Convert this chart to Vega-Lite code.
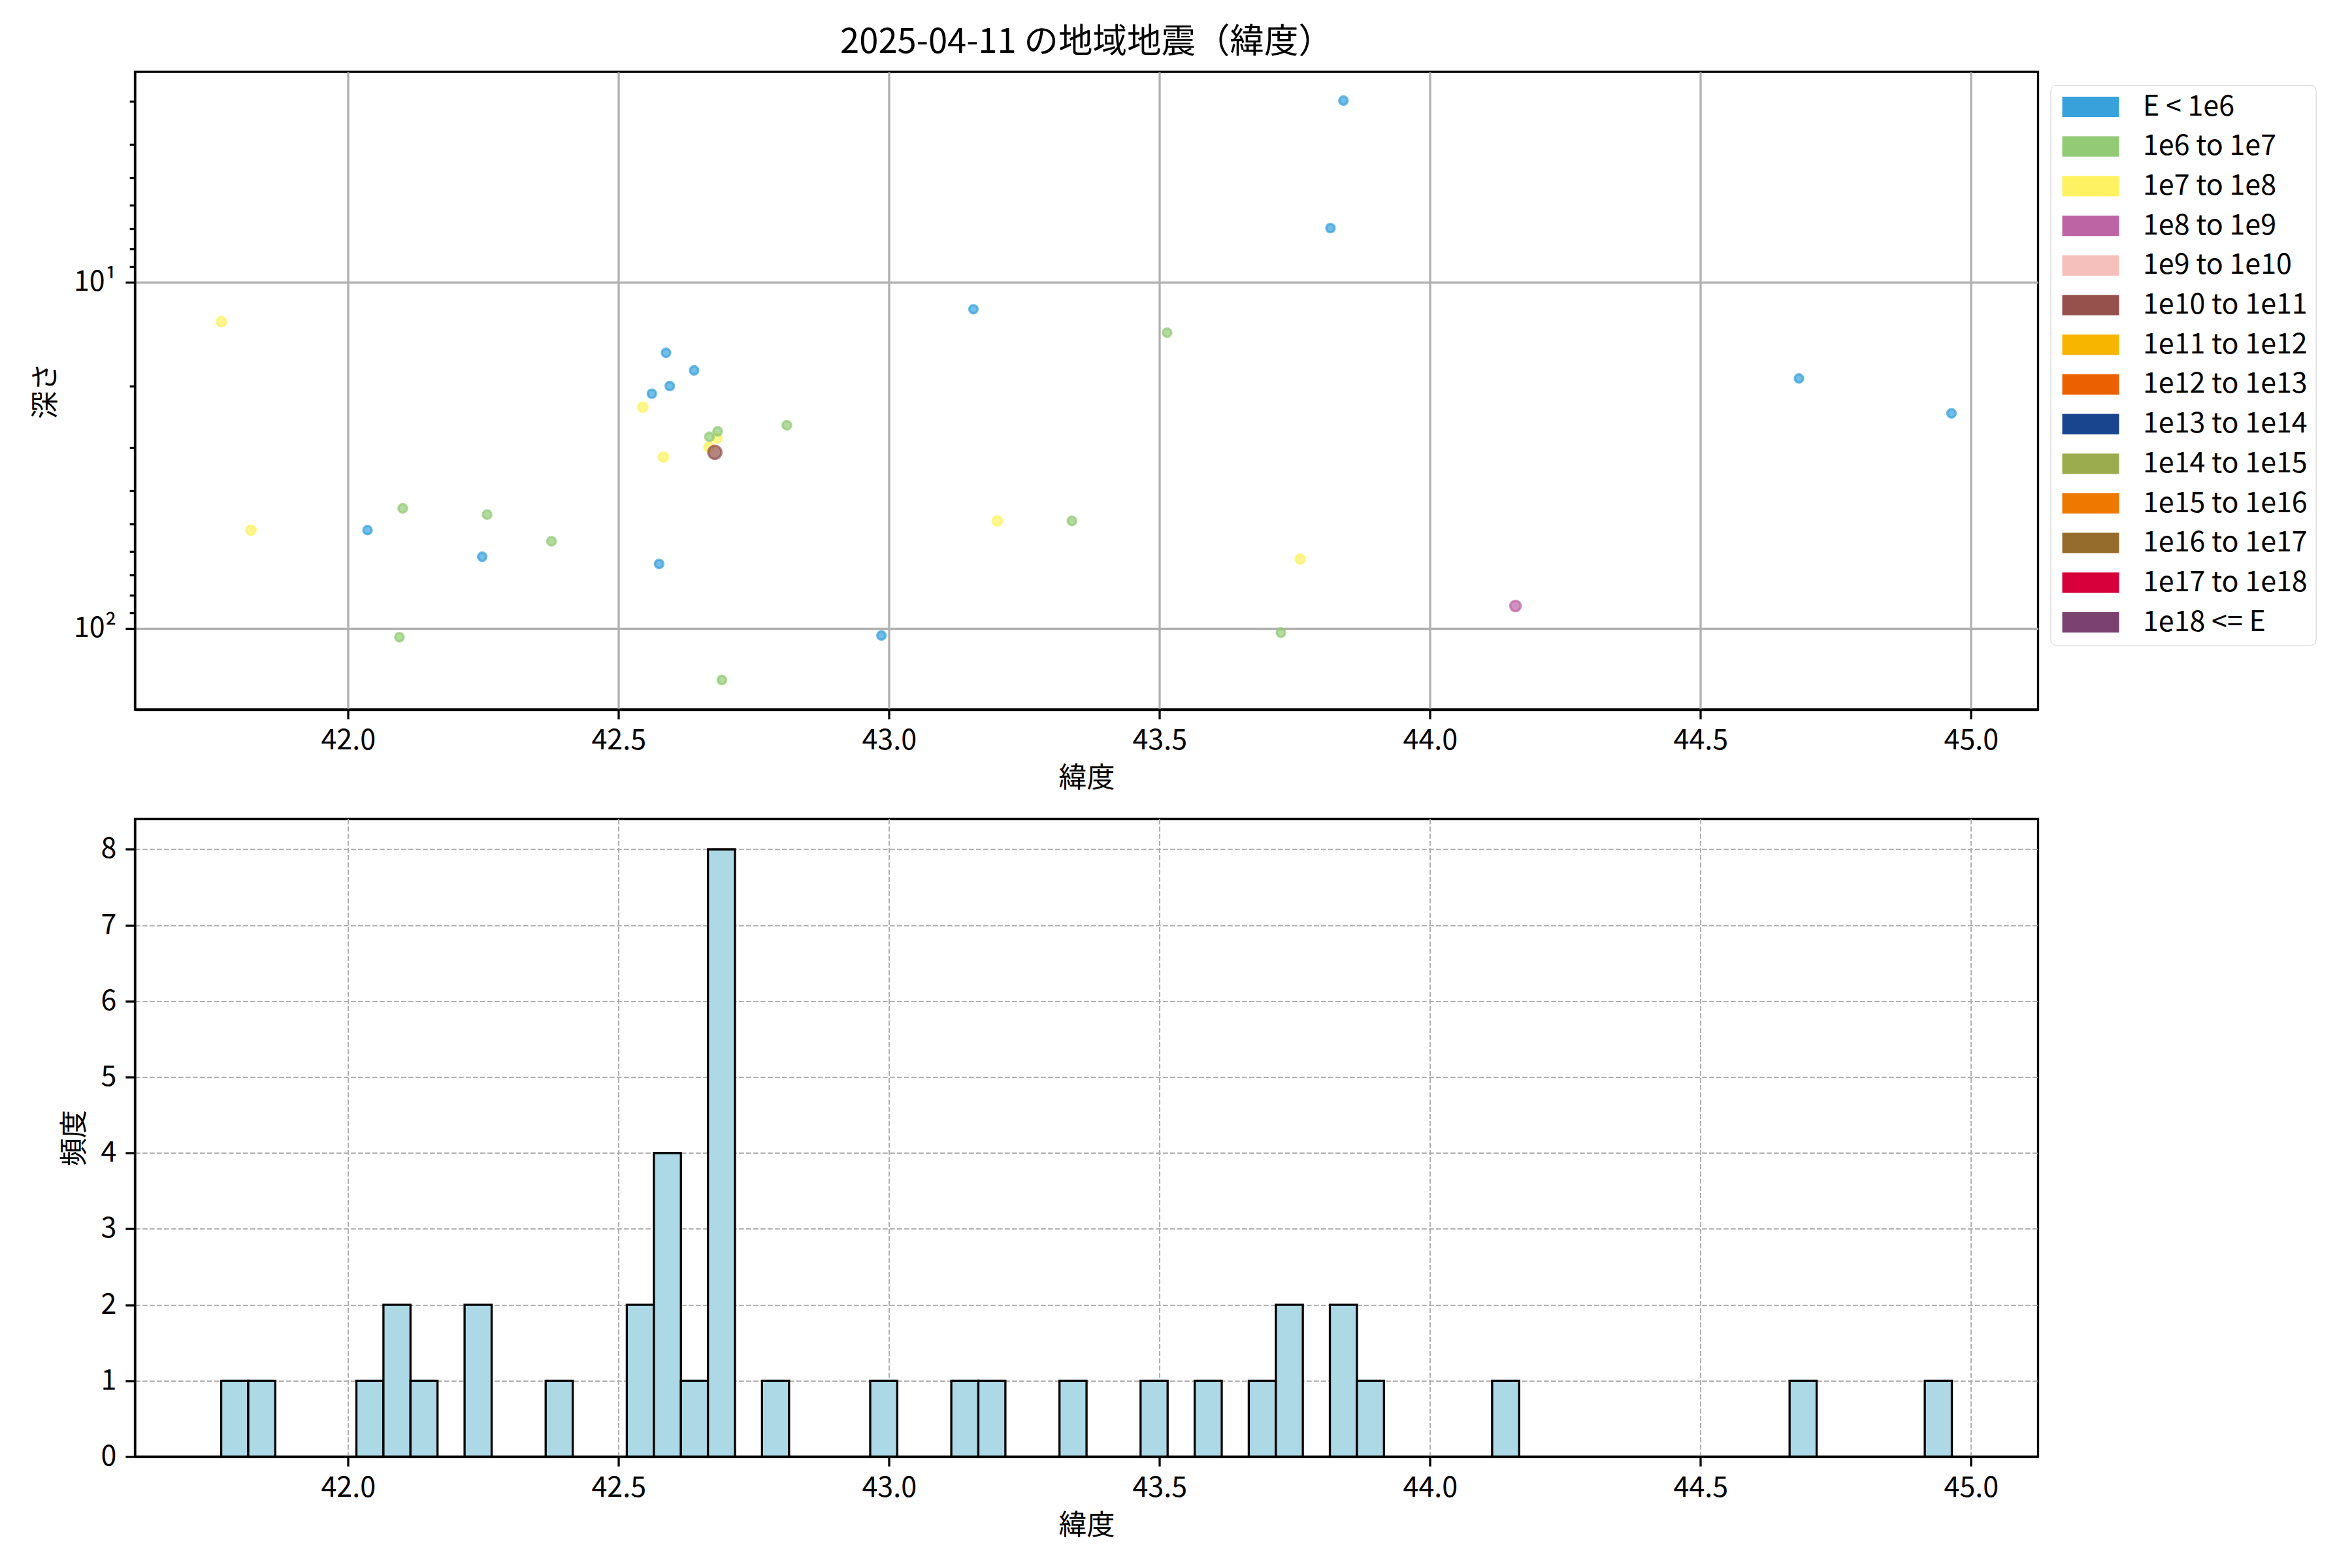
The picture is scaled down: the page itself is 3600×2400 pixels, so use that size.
{
  "$schema": "https://vega.github.io/schema/vega-lite/v6.json",
  "background": "white",
  "padding": {"left": 47.5, "top": 36, "right": 10, "bottom": 10},
  "spacing": 35.5,
  "config": {
    "font": "Noto Sans CJK JP",
    "view": {"stroke": "black", "strokeWidth": 3.3},
    "axis": {
      "labelFont": "Noto Sans CJK JP",
      "labelFontSize": 43,
      "labelColor": "black",
      "titleFont": "Noto Sans CJK JP",
      "titleFontSize": 43,
      "titleFontWeight": "normal",
      "titleColor": "black",
      "domainColor": "black",
      "domainWidth": 3.3,
      "tickColor": "black",
      "tickWidth": 3.3,
      "tickSize": 14.6,
      "labelPadding": 12,
      "titlePadding": 15,
      "gridColor": "#b0b0b0",
      "labelFlush": false,
      "labelOverlap": false
    },
    "legend": {"strokeColor": "#cccccc"},
    "title": {"font": "Noto Sans CJK JP", "fontSize": 52.5, "fontWeight": "normal", "color": "black"}
  },
  "datasets": {
    "quakes": [
      {"lat": 41.766, "depth": 13.0, "energy": "1e7 to 1e8"},
      {"lat": 41.8205, "depth": 52.0, "energy": "1e7 to 1e8"},
      {"lat": 42.5447, "depth": 22.96, "energy": "1e7 to 1e8"},
      {"lat": 42.682, "depth": 28.2, "energy": "1e7 to 1e8"},
      {"lat": 42.667, "depth": 29.9, "energy": "1e7 to 1e8"},
      {"lat": 42.583, "depth": 32.0, "energy": "1e7 to 1e8"},
      {"lat": 43.2, "depth": 48.9, "energy": "1e7 to 1e8"},
      {"lat": 43.76, "depth": 63.0, "energy": "1e7 to 1e8"},
      {"lat": 42.036, "depth": 52.0, "energy": "E < 1e6"},
      {"lat": 42.248, "depth": 62.1, "energy": "E < 1e6"},
      {"lat": 42.575, "depth": 65.1, "energy": "E < 1e6"},
      {"lat": 42.5878, "depth": 15.99, "energy": "E < 1e6"},
      {"lat": 42.6397, "depth": 17.98, "energy": "E < 1e6"},
      {"lat": 42.5946, "depth": 19.95, "energy": "E < 1e6"},
      {"lat": 42.5616, "depth": 20.99, "energy": "E < 1e6"},
      {"lat": 42.986, "depth": 104.8, "energy": "E < 1e6"},
      {"lat": 43.156, "depth": 11.97, "energy": "E < 1e6"},
      {"lat": 43.84, "depth": 2.99, "energy": "E < 1e6"},
      {"lat": 43.816, "depth": 6.98, "energy": "E < 1e6"},
      {"lat": 44.682, "depth": 18.97, "energy": "E < 1e6"},
      {"lat": 44.964, "depth": 23.93, "energy": "E < 1e6"},
      {"lat": 42.101, "depth": 45.0, "energy": "1e6 to 1e7"},
      {"lat": 42.257, "depth": 46.9, "energy": "1e6 to 1e7"},
      {"lat": 42.376, "depth": 56.0, "energy": "1e6 to 1e7"},
      {"lat": 42.095, "depth": 106.0, "energy": "1e6 to 1e7"},
      {"lat": 42.6832, "depth": 26.97, "energy": "1e6 to 1e7"},
      {"lat": 42.6679, "depth": 27.97, "energy": "1e6 to 1e7"},
      {"lat": 42.691, "depth": 140.9, "energy": "1e6 to 1e7"},
      {"lat": 42.811, "depth": 25.9, "energy": "1e6 to 1e7"},
      {"lat": 43.514, "depth": 13.99, "energy": "1e6 to 1e7"},
      {"lat": 43.338, "depth": 48.9, "energy": "1e6 to 1e7"},
      {"lat": 43.7245, "depth": 102.8, "energy": "1e6 to 1e7"},
      {"lat": 44.158, "depth": 86.1, "energy": "1e8 to 1e9"},
      {"lat": 42.678, "depth": 31.0, "energy": "1e10 to 1e11"}
    ],
    "hist": [
      {"bin_start": 41.7655, "bin_end": 41.8155, "count": 1},
      {"bin_start": 41.8155, "bin_end": 41.8655, "count": 1},
      {"bin_start": 42.0154, "bin_end": 42.0654, "count": 1},
      {"bin_start": 42.0654, "bin_end": 42.1154, "count": 2},
      {"bin_start": 42.1154, "bin_end": 42.1654, "count": 1},
      {"bin_start": 42.2154, "bin_end": 42.2654, "count": 2},
      {"bin_start": 42.3653, "bin_end": 42.4153, "count": 1},
      {"bin_start": 42.5153, "bin_end": 42.5653, "count": 2},
      {"bin_start": 42.5653, "bin_end": 42.6153, "count": 4},
      {"bin_start": 42.6153, "bin_end": 42.6653, "count": 1},
      {"bin_start": 42.6653, "bin_end": 42.7152, "count": 8},
      {"bin_start": 42.7652, "bin_end": 42.8152, "count": 1},
      {"bin_start": 42.9652, "bin_end": 43.0152, "count": 1},
      {"bin_start": 43.1151, "bin_end": 43.1651, "count": 1},
      {"bin_start": 43.1651, "bin_end": 43.2151, "count": 1},
      {"bin_start": 43.3151, "bin_end": 43.3651, "count": 1},
      {"bin_start": 43.465, "bin_end": 43.515, "count": 1},
      {"bin_start": 43.565, "bin_end": 43.615, "count": 1},
      {"bin_start": 43.665, "bin_end": 43.715, "count": 1},
      {"bin_start": 43.715, "bin_end": 43.7649, "count": 2},
      {"bin_start": 43.8149, "bin_end": 43.8649, "count": 2},
      {"bin_start": 43.8649, "bin_end": 43.9149, "count": 1},
      {"bin_start": 44.1148, "bin_end": 44.1648, "count": 1},
      {"bin_start": 44.6647, "bin_end": 44.7147, "count": 1},
      {"bin_start": 44.9146, "bin_end": 44.9646, "count": 1}
    ]
  },
  "resolve": {"legend": {"color": "independent"}},
  "vconcat": [
    {
      "width": 2913,
      "height": 976,
      "title": {"text": "2025-04-11 の地域地震（緯度）", "anchor": "middle", "frame": "group", "offset": 18},
      "data": {"name": "quakes"},
      "mark": {"type": "circle", "fillOpacity": 0.7, "strokeOpacity": 0.7, "strokeWidth": 3.5},
      "encoding": {
        "x": {
          "field": "lat", "type": "quantitative",
          "scale": {"domain": [41.606, 45.124], "nice": false, "zero": false},
          "axis": {"title": "緯度", "values": [42, 42.5, 43, 43.5, 44, 44.5, 45], "format": ".1f", "grid": true, "gridWidth": 3.3}
        },
        "y": {
          "field": "depth", "type": "quantitative",
          "scale": {"type": "log", "domain": [2.47, 171.4], "reverse": true, "nice": false},
          "axis": {
            "title": "深さ", "titleX": -136, "titleBaseline": "middle",
            "values": [3, 4, 5, 6, 7, 8, 9, 10, 20, 30, 40, 50, 60, 70, 80, 90, 100],
            "labelExpr": "datum.value == 10 ? '10¹' : (datum.value == 100 ? '10²' : '')",
            "labelPadding": 14,
            "tickSize": {"condition": {"test": "datum.value == 10 || datum.value == 100", "value": 14.6}, "value": 8.3},
            "grid": true, "gridWidth": 3.3,
            "gridOpacity": {"condition": {"test": "datum.value == 10 || datum.value == 100", "value": 1}, "value": 0}
          }
        },
        "color": {
          "field": "energy", "type": "nominal",
          "scale": {
            "domain": ["E < 1e6", "1e6 to 1e7", "1e7 to 1e8", "1e8 to 1e9", "1e9 to 1e10", "1e10 to 1e11", "1e11 to 1e12", "1e12 to 1e13", "1e13 to 1e14", "1e14 to 1e15", "1e15 to 1e16", "1e16 to 1e17", "1e17 to 1e18", "1e18 <= E"],
            "range": ["#38a1db", "#93ca76", "#fef263", "#bc64a4", "#f5c0bb", "#96514d", "#f8b500", "#eb6101", "#19448e", "#9bac4f", "#ee7800", "#956c2c", "#d7003a", "#7b4171"]
          },
          "legend": {
            "orient": "none", "legendX": 2932, "legendY": 20, "title": null,
            "symbolType": "M-0.775,-0.78H3.575V0.78H-0.775Z", "symbolSize": 1600, "symbolStrokeWidth": 0, "symbolOpacity": 1,
            "labelFont": "Noto Sans CJK JP", "labelFontSize": 43, "labelColor": "black", "labelOffset": 86.5, "labelLimit": 1000,
            "rowPadding": 16.7, "padding": 12, "strokeColor": "#cccccc", "cornerRadius": 8, "fillColor": "white"
          }
        },
        "stroke": {
          "field": "energy", "type": "nominal",
          "scale": {
            "domain": ["E < 1e6", "1e6 to 1e7", "1e7 to 1e8", "1e8 to 1e9", "1e9 to 1e10", "1e10 to 1e11", "1e11 to 1e12", "1e12 to 1e13", "1e13 to 1e14", "1e14 to 1e15", "1e15 to 1e16", "1e16 to 1e17", "1e17 to 1e18", "1e18 <= E"],
            "range": ["#38a1db", "#93ca76", "#fef263", "#bc64a4", "#f5c0bb", "#96514d", "#f8b500", "#eb6101", "#19448e", "#9bac4f", "#ee7800", "#956c2c", "#d7003a", "#7b4171"]
          },
          "legend": null
        },
        "size": {
          "field": "energy", "type": "ordinal",
          "scale": {
            "type": "ordinal",
            "domain": ["E < 1e6", "1e6 to 1e7", "1e7 to 1e8", "1e8 to 1e9", "1e9 to 1e10", "1e10 to 1e11", "1e11 to 1e12", "1e12 to 1e13", "1e13 to 1e14", "1e14 to 1e15", "1e15 to 1e16", "1e16 to 1e17", "1e17 to 1e18", "1e18 <= E"],
            "range": [165, 172, 208, 258, 322, 406, 480, 560, 640, 730, 820, 910, 1000, 1100]
          },
          "legend": null
        }
      }
    },
    {
      "width": 2913,
      "height": 976,
      "data": {"name": "hist"},
      "mark": {"type": "rect", "fill": "#add8e6", "stroke": "black", "strokeWidth": 3.3},
      "encoding": {
        "x": {
          "field": "bin_start", "type": "quantitative",
          "scale": {"domain": [41.606, 45.124], "nice": false, "zero": false},
          "axis": {"title": "緯度", "values": [42, 42.5, 43, 43.5, 44, 44.5, 45], "format": ".1f", "grid": true, "gridWidth": 2, "gridDash": [7.7, 3.3]}
        },
        "x2": {"field": "bin_end"},
        "y": {
          "field": "count", "type": "quantitative",
          "scale": {"domain": [0, 8.4], "nice": false},
          "axis": {"title": "頻度", "titleX": -92, "titleBaseline": "middle", "values": [0, 1, 2, 3, 4, 5, 6, 7, 8], "format": "d", "labelPadding": 14, "grid": true, "gridWidth": 2, "gridDash": [7.7, 3.3]}
        },
        "y2": {"datum": 0}
      }
    }
  ]
}
